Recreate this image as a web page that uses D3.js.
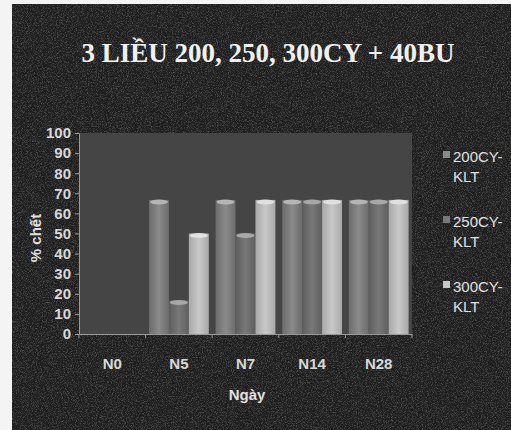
<!DOCTYPE html>
<html><head><meta charset="utf-8">
<script src="https://cdn.jsdelivr.net/npm/d3@7"></script>
<style>html,body{margin:0;padding:0;background:#f4f4f4;}svg{display:block;}</style>
</head><body>
<svg id="chart" width="511" height="430"></svg>
<script>
const title = "3 LIỀU 200, 250, 300CY + 40BU";
const categories = ["N0", "N5", "N7", "N14", "N28"];
const seriesNames = ["200CY-KLT", "250CY-KLT", "300CY-KLT"];
const s200 = [0, 66.7, 66.7, 66.7, 66.7];
const s250 = [0, 16.7, 50, 66.7, 66.7];
const s300 = [0, 50, 66.7, 66.7, 66.7];
const yTicks = [0, 10, 20, 30, 40, 50, 60, 70, 80, 90, 100];
const seriesValues = [s200, s250, s300];
const colors = ["#6c6c6c", "#5e5e5e", "#a8a8a8"];
const lightColors = ["#8a8a8a", "#787878", "#c8c8c8"];
const capColors = ["#b5b5b5", "#a8a8a8", "#e0e0e0"];

const svg = d3.select("#chart");
const defs = svg.append("defs");
const f = defs.append("filter").attr("id","grain").attr("x",0).attr("y",0).attr("width","100%").attr("height","100%");
f.append("feTurbulence").attr("type","fractalNoise").attr("baseFrequency",1.2).attr("numOctaves",2).attr("seed",3).attr("result","n");
f.append("feColorMatrix").attr("in","n").attr("type","matrix")
 .attr("values","0 0 0 0 0.8  0 0 0 0 0.8  0 0 0 0 0.8  0 0 0 -2.2 1.25");

colors.forEach((c,i)=>{
  const g = defs.append("linearGradient").attr("id","bg"+i).attr("x1","0").attr("x2","1").attr("y1","0").attr("y2","0");
  g.append("stop").attr("offset","0%").attr("stop-color",c);
  g.append("stop").attr("offset","50%").attr("stop-color",lightColors[i]);
  g.append("stop").attr("offset","100%").attr("stop-color",c);
});

// background
svg.append("rect").attr("x",12).attr("y",4).attr("width",499).attr("height",426).attr("fill","#1d1d1d");
svg.append("rect").attr("x",12).attr("y",4).attr("width",499).attr("height",426).attr("filter","url(#grain)").attr("opacity",0.3);

const m = {left:79, right:412, top:133, bottom:334};
const x = d3.scaleBand().domain(categories).range([m.left, m.right]).paddingInner(0).paddingOuter(0);
const x1 = d3.scaleBand().domain(seriesNames).range([0, x.bandwidth()]).paddingInner(0).paddingOuter(0.17);
const y = d3.scaleLinear().domain([0,100]).range([m.bottom, m.top]);

svg.append("rect").attr("x",m.left).attr("y",m.top).attr("width",m.right-m.left).attr("height",m.bottom-m.top).attr("fill","#454545");

const groups = svg.append("g").selectAll("g").data(categories).join("g")
  .attr("transform", d=>`translate(${x(d)},0)`);
seriesNames.forEach((s,si)=>{
  groups.each(function(cat,ci){
    const v = seriesValues[si][ci];
    if (v<=0) return;
    const g = d3.select(this);
    const bx = x1(s), bw = x1.bandwidth();
    g.append("rect").attr("x",bx).attr("y",y(v)).attr("width",bw).attr("height",y(0)-y(v)).attr("fill",`url(#bg${si})`);
    g.append("ellipse").attr("cx",bx+bw/2).attr("cy",y(v)+2).attr("rx",bw/2-1).attr("ry",2.5).attr("fill",capColors[si]);
  });
});

// axes
const yAxis = svg.append("g").attr("transform",`translate(${m.left},0)`)
  .call(d3.axisLeft(y).tickValues(yTicks).tickSize(4).tickPadding(4));
yAxis.select(".domain").attr("stroke","#9a9a9a");
yAxis.selectAll(".tick line").attr("stroke","#9a9a9a");
yAxis.selectAll("text").attr("fill","#d8d8d8").attr("font-family","Liberation Sans, Arial, sans-serif").attr("font-size",15).attr("font-weight","bold");

const xAxis = svg.append("g").attr("transform",`translate(0,${m.bottom})`)
  .call(d3.axisBottom(x).tickSize(0).tickPadding(24));
xAxis.select(".domain").attr("stroke","#9a9a9a");
xAxis.selectAll("text").attr("fill","#d8d8d8").attr("font-family","Liberation Sans, Arial, sans-serif").attr("font-size",15).attr("font-weight","bold");
// category separator ticks
svg.append("g").selectAll("line").data(categories.concat(["end"])).join("line")
  .attr("x1",(d,i)=> i<categories.length ? x(d) : m.right).attr("x2",(d,i)=> i<categories.length ? x(d) : m.right)
  .attr("y1",m.bottom).attr("y2",m.bottom+4).attr("stroke","#9a9a9a");

// title
svg.append("text").attr("x",268).attr("y",62).attr("text-anchor","middle")
  .attr("font-family","Liberation Serif, Times New Roman, serif").attr("font-weight","bold").attr("font-size",27)
  .attr("fill","#f0f0f0").text(title);

// axis titles
svg.append("text").attr("x",247).attr("y",400).attr("text-anchor","middle")
  .attr("font-family","Liberation Sans, Arial, sans-serif").attr("font-weight","bold").attr("font-size",15)
  .attr("fill","#e0e0e0").text("Ngày");
svg.append("text").attr("transform","translate(41,238) rotate(-90)").attr("text-anchor","middle")
  .attr("font-family","Liberation Sans, Arial, sans-serif").attr("font-weight","bold").attr("font-size",15)
  .attr("fill","#e0e0e0").text("% chết");

// legend
const leg = svg.append("g").selectAll("g").data(seriesNames).join("g")
  .attr("transform",(d,i)=>`translate(443,${151+i*65})`);
leg.append("rect").attr("width",7).attr("height",7).attr("fill",(d,i)=>lightColors[i]);
leg.append("text").attr("x",10).attr("y",11).attr("fill","#e0e0e0")
  .attr("font-family","Liberation Sans, Arial, sans-serif").attr("font-size",15)
  .each(function(d){
    const parts = d.split("-");
    const t = d3.select(this);
    t.append("tspan").attr("x",10).attr("dy",0).text(parts[0]+"-");
    t.append("tspan").attr("x",10).attr("dy",20).text(parts[1]);
  });
</script>
</body></html>
